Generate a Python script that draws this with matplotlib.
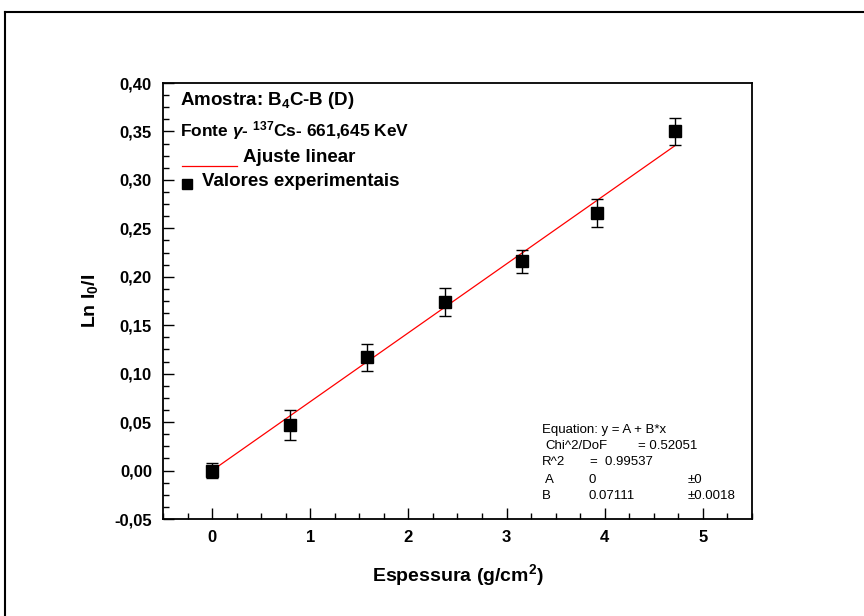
import matplotlib.pyplot as plt
from matplotlib.ticker import MultipleLocator, FuncFormatter
from matplotlib.lines import Line2D

plt.rcParams['font.family'] = ['Liberation Sans', 'DejaVu Sans']
plt.rcParams['mathtext.fontset'] = 'custom'
plt.rcParams['mathtext.rm'] = 'Liberation Sans:bold'
plt.rcParams['mathtext.bf'] = 'Liberation Sans:bold'
plt.rcParams['mathtext.it'] = 'Liberation Sans:italic:bold'

espessura = [0.0, 0.79, 1.58, 2.37, 3.16, 3.92, 4.72]
ln_i0_i = [0.000, 0.047, 0.117, 0.174, 0.216, 0.266, 0.350]
erro = [0.008, 0.015, 0.014, 0.0145, 0.012, 0.0145, 0.014]
coef_a = 0.0
coef_b = 0.07111

fig = plt.figure(figsize=(8.64, 6.16), dpi=100)
ax = fig.add_axes([163/864, 1 - 519/616, (752-163)/864, (519-83)/616])

# moldura externa
fig.add_artist(Line2D([5/864, 5/864], [0, 1 - 12/616], color='black', lw=1.5,
                      transform=fig.transFigure))
fig.add_artist(Line2D([5/864, 1], [1 - 12/616, 1 - 12/616], color='black', lw=1.5,
                      transform=fig.transFigure))

fit_x = [espessura[0], espessura[-1]]
fit_y = [coef_a + coef_b * x for x in fit_x]
ax.plot(fit_x, fit_y, color='red', lw=0.9, zorder=2)
ax.errorbar(espessura, ln_i0_i, yerr=erro, fmt='s', color='black', ms=8,
            ecolor='black', elinewidth=1, capsize=4, capthick=1, zorder=3)

ax.set_xlim(-0.5, 5.5)
ax.set_ylim(-0.05, 0.40)
ax.xaxis.set_major_locator(MultipleLocator(1))
ax.xaxis.set_minor_locator(MultipleLocator(0.25))
ax.yaxis.set_major_locator(MultipleLocator(0.05))
ax.yaxis.set_minor_locator(MultipleLocator(0.0125))
ax.yaxis.set_major_formatter(FuncFormatter(lambda v, p: '{:.2f}'.format(v).replace('.', ',')))
ax.tick_params(which='both', direction='in', top=False, right=False)
ax.tick_params(which='major', length=8, width=1, labelsize=12, pad=8)
ax.tick_params(which='minor', length=4, width=1)
for lbl in ax.get_xticklabels() + ax.get_yticklabels():
    lbl.set_fontweight('bold')
for s in ax.spines.values():
    s.set_linewidth(1.3)

ax.set_xlabel('Espessura (g/cm$^2$)', fontsize=14, fontweight='bold', labelpad=12)
ax.set_ylabel('Ln I$_0$/I', fontsize=14, fontweight='bold', labelpad=10)

# legenda manual
ax.text(0.029, 0.961, 'Amostra: B$_4$C-B (D)', transform=ax.transAxes,
        fontsize=13.5, fontweight='bold', va='center')
ax.text(0.029, 0.890, 'Fonte $\\mathit{\\gamma}$- $^{137}$Cs- 661,645 KeV', transform=ax.transAxes,
        fontsize=12.5, fontweight='bold', va='center')
ax.plot([0.032, 0.126], [0.8096, 0.8096], color='red', lw=0.9, transform=ax.transAxes)
ax.text(0.136, 0.828, 'Ajuste linear', transform=ax.transAxes,
        fontsize=13.5, fontweight='bold', va='center')
ax.plot([0.041], [0.768], 's', color='black', ms=6.5, transform=ax.transAxes)
ax.text(0.066, 0.773, 'Valores experimentais', transform=ax.transAxes,
        fontsize=13.5, fontweight='bold', va='center')

# caixa de resultados do ajuste
fs = 9.5
ax.text(0.643, 0.204, 'Equation: y = A + B*x', transform=ax.transAxes, fontsize=fs, va='center')
ax.text(0.649, 0.167, 'Chi^2/DoF', transform=ax.transAxes, fontsize=fs, va='center')
ax.text(0.806, 0.167, '= 0.52051', transform=ax.transAxes, fontsize=fs, va='center')
ax.text(0.643, 0.131, 'R^2', transform=ax.transAxes, fontsize=fs, va='center')
ax.text(0.725, 0.131, '=  0.99537', transform=ax.transAxes, fontsize=fs, va='center')
ax.text(0.649, 0.089, 'A', transform=ax.transAxes, fontsize=fs, va='center')
ax.text(0.723, 0.089, '0', transform=ax.transAxes, fontsize=fs, va='center')
ax.text(0.890, 0.089, '\u00b10', transform=ax.transAxes, fontsize=fs, va='center')
ax.text(0.643, 0.053, 'B', transform=ax.transAxes, fontsize=fs, va='center')
ax.text(0.723, 0.053, '0.07111', transform=ax.transAxes, fontsize=fs, va='center')
ax.text(0.890, 0.053, '\u00b10.0018', transform=ax.transAxes, fontsize=fs, va='center')

fig.savefig('out.png', dpi=100)
